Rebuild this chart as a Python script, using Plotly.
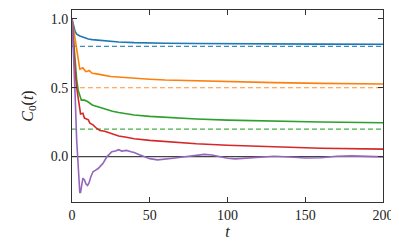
import plotly.graph_objects as go

# ---- data ----
t_blue = [0, 1, 2, 3, 4, 5, 6, 8, 10.5, 13, 17, 20, 23, 30, 40, 50, 60, 80, 100, 130, 160, 200]
c_blue = [1.0, 0.95, 0.91, 0.89, 0.88, 0.876, 0.873, 0.862, 0.854, 0.85, 0.845, 0.841, 0.838, 0.833, 0.828, 0.825, 0.823, 0.822, 0.82, 0.818, 0.817, 0.816]

t_orange = [0, 1, 2, 3, 4, 5, 6, 7, 8, 9, 10, 11, 12, 13, 15, 17, 21, 25, 30, 35, 40, 50, 60, 80, 100, 130, 160, 200]
c_orange = [1.0, 0.92, 0.85, 0.76, 0.68, 0.635, 0.64, 0.645, 0.63, 0.618, 0.62, 0.625, 0.615, 0.606, 0.603, 0.6, 0.59, 0.582, 0.577, 0.573, 0.568, 0.562, 0.556, 0.549, 0.543, 0.537, 0.532, 0.527]

t_green = [0, 1, 2, 3, 4, 5, 6, 8, 10, 13, 17, 22, 26, 30, 40, 50, 60, 80, 100, 130, 160, 200]
c_green = [1.0, 0.85, 0.7, 0.56, 0.48, 0.44, 0.41, 0.41, 0.4, 0.375, 0.36, 0.345, 0.33, 0.32, 0.302, 0.292, 0.284, 0.273, 0.265, 0.257, 0.251, 0.246]

t_red = [0, 1, 2, 3, 4, 5, 5.5, 7, 8, 9, 10.5, 11.5, 13.5, 15.7, 18, 21, 25.6, 30, 35, 40, 50, 60, 70, 80, 100, 130, 160, 200]
c_red = [1.0, 0.8, 0.62, 0.5, 0.42, 0.33, 0.31, 0.315, 0.28, 0.275, 0.267, 0.243, 0.23, 0.206, 0.19, 0.184, 0.165, 0.15, 0.14, 0.13, 0.118, 0.108, 0.1, 0.093, 0.082, 0.07, 0.061, 0.054]

t_purple = [0, 1, 2, 3, 4, 5, 5.5, 6, 7, 8, 9, 10, 11, 12, 13.5, 15, 17, 19, 20, 22.5, 25.6, 28, 30, 32, 35, 38, 40, 43, 46, 50, 55, 60, 65, 70, 75, 80, 85, 90, 95, 100, 105, 110, 120, 130, 140, 150, 160, 170, 180, 190, 200]
c_purple = [1.0, 0.75, 0.45, 0.12, -0.12, -0.26, -0.26, -0.21, -0.157, -0.17, -0.2, -0.21, -0.19, -0.15, -0.11, -0.1, -0.085, -0.06, -0.048, 0.0, 0.036, 0.04, 0.05, 0.04, 0.045, 0.035, 0.03, 0.015, 0.0, -0.015, -0.024, -0.02, -0.012, -0.005, 0.003, 0.013, 0.016, 0.012, 0.0, -0.012, -0.017, -0.014, -0.005, 0.002, -0.003, -0.01, -0.008, 0.002, 0.005, 0.002, -0.002]

ref_levels = [0.8, 0.5, 0.2]
ref_colors = ["#1f77b4", "#ff7f0e", "#2ca02c"]
zero_level = [0.0]
t_span = [0, 200]

x_ticks = [0, 50, 100, 150, 200]
y_ticks = [0.0, 0.5, 1.0]
y_ticklabels = ["0.0", "0.5", "1.0"]

series = [
    (t_blue, c_blue, "#1f77b4"),
    (t_orange, c_orange, "#ff7f0e"),
    (t_green, c_green, "#2ca02c"),
    (t_red, c_red, "#d62728"),
    (t_purple, c_purple, "#9467bd"),
]

fig = go.Figure()

# zero line
fig.add_trace(go.Scatter(x=t_span, y=zero_level * 2, mode="lines",
                         line=dict(color="#444444", width=1.2), showlegend=False))

for lvl, col in zip(ref_levels, ref_colors):
    fig.add_trace(go.Scatter(x=t_span, y=[lvl, lvl], mode="lines", opacity=0.85,
                             line=dict(color=col, width=1.2, dash="5px,3px"), showlegend=False))

for tt, cc, col in series:
    fig.add_trace(go.Scatter(x=tt, y=cc, mode="lines",
                             line=dict(color=col, width=1.6), showlegend=False))

font_family = "Liberation Serif, DejaVu Serif, serif"
axis_common = dict(showline=True, linecolor="#333333", linewidth=1, mirror="ticks",
                   ticks="inside", ticklen=5, tickwidth=1, tickcolor="#333333",
                   showgrid=False, zeroline=False,
                   tickfont=dict(family=font_family, size=14, color="#222222"))

# page body has an 8px offset, so the figure is sized/margined to compensate
fig.update_layout(
    width=391, height=239,
    margin=dict(l=64, r=16, t=2, b=45),
    paper_bgcolor="white", plot_bgcolor="white",
    font=dict(family=font_family, size=14, color="#222222"),
    xaxis=dict(range=[0, 200], tickvals=x_ticks,
               title=dict(text="<i>t</i>", standoff=4, font=dict(size=16)), **axis_common),
    yaxis=dict(range=[-0.33, 1.065], tickvals=y_ticks, ticktext=y_ticklabels,
               title=dict(text="<i>C</i><sub>0</sub>(<i>t</i>)", standoff=13, font=dict(size=16)),
               **axis_common),
)

fig.write_html("out.html")
